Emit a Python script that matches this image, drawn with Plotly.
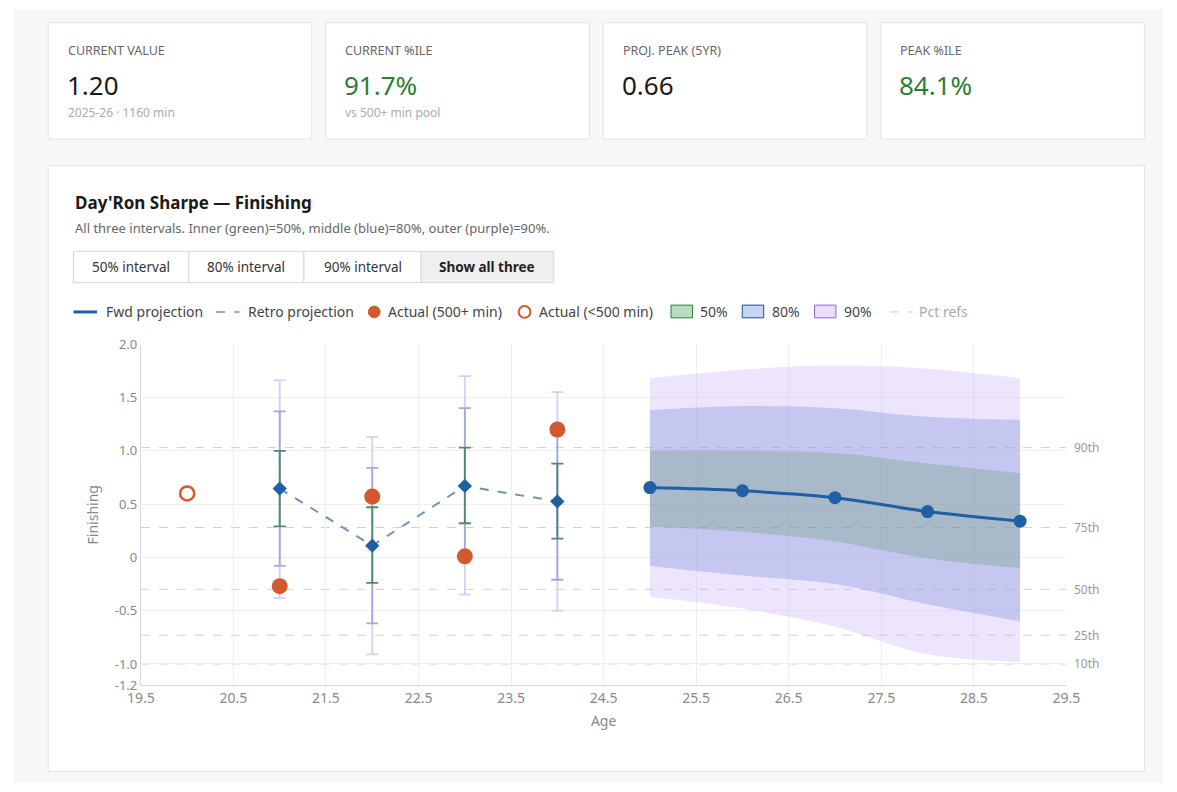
import plotly.graph_objects as go

W, H = 1177, 792

# data
retro_age = [21, 22, 23, 24]
retro_val = [0.645, 0.11, 0.67, 0.525]
retro_50_hi = [1.00, 0.47, 1.03, 0.88]
retro_50_lo = [0.29, -0.24, 0.32, 0.175]
retro_80_hi = [1.37, 0.84, 1.40, 1.22]
retro_80_lo = [-0.08, -0.62, -0.02, -0.21]
retro_90_hi = [1.66, 1.13, 1.70, 1.55]
retro_90_lo = [-0.38, -0.91, -0.35, -0.50]

actual_age = [21, 22, 23, 24]
actual_val = [-0.27, 0.57, 0.01, 1.20]
actual_small_age = [20]
actual_small_val = [0.60]

fwd_age = [25, 26, 27, 28, 29]
fwd_val = [0.655, 0.625, 0.56, 0.43, 0.34]
fwd_50_hi = [1.00, 1.00, 0.98, 0.88, 0.79]
fwd_50_lo = [0.29, 0.24, 0.15, -0.01, -0.10]
fwd_80_hi = [1.38, 1.42, 1.40, 1.32, 1.29]
fwd_80_lo = [-0.08, -0.17, -0.25, -0.44, -0.60]
fwd_90_hi = [1.68, 1.76, 1.80, 1.77, 1.68]
fwd_90_lo = [-0.37, -0.48, -0.65, -0.91, -0.98]

pct_names = ["90th", "75th", "50th", "25th", "10th"]
pct_vals = [1.03, 0.28, -0.30, -0.73, -1.00]

y_ticks = [2.0, 1.5, 1.0, 0.5, 0, -0.5, -1.0, -1.2]
y_tick_text = ["2.0", "1.5", "1.0", "0.5", "0", "-0.5", "-1.0", "-1.2"]
x_ticks = [19.5, 20.5, 21.5, 22.5, 23.5, 24.5, 25.5, 26.5, 27.5, 28.5, 29.5]

cards = [("CURRENT VALUE", "1.20", "#1a1a1a", "2025-26 · 1160 min"),
         ("CURRENT %ILE", "91.7%", "#2e7d32", "vs 500+ min pool"),
         ("PROJ. PEAK (5YR)", "0.66", "#1a1a1a", ""),
         ("PEAK %ILE", "84.1%", "#2e7d32", "")]
buttons = ["50% interval", "80% interval", "90% interval", "Show all three"]

C_FWD = "#1f5fa3"
C_RETRO = "#6f93c0"
C_ACT = "#d4582f"
F90 = "rgba(200,180,250,0.35)"
F80 = "rgba(110,130,215,0.30)"
F50 = "rgba(90,150,100,0.28)"
BG = "#f7f7f5"
FONT = "Segoe UI, Noto Sans, Open Sans, sans-serif"

def px(x):
    return x / W

def py(y):
    return 1 - y / H

fig = go.Figure()

# forward bands
for hi, lo, col in [(fwd_90_hi, fwd_90_lo, F90), (fwd_80_hi, fwd_80_lo, F80), (fwd_50_hi, fwd_50_lo, F50)]:
    fig.add_trace(go.Scatter(x=fwd_age, y=hi, mode="lines", line=dict(width=0, shape="spline"),
                             showlegend=False, hoverinfo="skip"))
    fig.add_trace(go.Scatter(x=fwd_age, y=lo, mode="lines", line=dict(width=0, shape="spline"),
                             fill="tonexty", fillcolor=col, showlegend=False, hoverinfo="skip"))

shapes = []
ann = []

# pct reference lines
for v in pct_vals:
    shapes.append(dict(type="line", xref="x domain", yref="y", x0=0, x1=1, y0=v, y1=v,
                       line=dict(color="#d0d0d0", width=1, dash="dash"), layer="below"))

# retro error bars
for hi, lo, col in [(retro_90_hi, retro_90_lo, "#d9ccf5"), (retro_80_hi, retro_80_lo, "#9eaadd"),
                    (retro_50_hi, retro_50_lo, "#4f8a6c")]:
    mid = [(a + b) / 2 for a, b in zip(hi, lo)]
    half = [(a - b) / 2 for a, b in zip(hi, lo)]
    fig.add_trace(go.Scatter(x=retro_age, y=mid, mode="markers", marker=dict(size=0.1, opacity=0),
                             error_y=dict(type="data", array=half, color=col, thickness=1.8, width=6),
                             showlegend=False, hoverinfo="skip"))

fig.add_trace(go.Scatter(x=retro_age, y=retro_val, mode="lines+markers",
                         line=dict(color=C_RETRO, width=2, dash="dash"),
                         marker=dict(symbol="diamond", size=11, color=C_FWD), showlegend=False))
fig.add_trace(go.Scatter(x=fwd_age, y=fwd_val, mode="lines+markers",
                         line=dict(color=C_FWD, width=3, shape="spline"),
                         marker=dict(size=13, color=C_FWD), showlegend=False))
fig.add_trace(go.Scatter(x=actual_age, y=actual_val, mode="markers",
                         marker=dict(size=16, color=C_ACT), showlegend=False))
fig.add_trace(go.Scatter(x=actual_small_age, y=actual_small_val, mode="markers",
                         marker=dict(size=14, color="white", line=dict(color=C_ACT, width=2.5)),
                         showlegend=False))

def rect(x0, y0, x1, y1, fill, line=None, width=1):
    shapes.append(dict(type="rect", xref="paper", yref="paper", x0=px(x0), x1=px(x1), y0=py(y1), y1=py(y0),
                       fillcolor=fill, line=dict(color=line or "rgba(0,0,0,0)", width=width if line else 0),
                       layer="above"))

# page background around the white panel
rect(0, 0, W, 160, BG)
rect(0, 160, 35, H, BG)
rect(1158, 160, W, H, BG)
rect(0, 780, W, H, BG)
shapes.append(dict(type="rect", xref="paper", yref="paper", x0=px(35), x1=px(1158), y0=py(780), y1=py(160),
                   line=dict(color="#e2e2e2", width=1), layer="above"))

# cards
for i, (lab, val, col, sub) in enumerate(cards):
    x0 = 35 + i * 284.3
    rect(x0, 14, x0 + 270, 133, "white", "#e2e2e2")
    ann.append(dict(x=px(x0 + 18), y=py(42), text=lab, font=dict(size=12.5, color="#666"), xanchor="left"))
    ann.append(dict(x=px(x0 + 17), y=py(78), text=val, font=dict(size=26, color=col), xanchor="left"))
    if sub:
        ann.append(dict(x=px(x0 + 18), y=py(106), text=sub, font=dict(size=12, color="#aaa"), xanchor="left"))

ann.append(dict(x=px(60), y=py(198), text="<b>Day'Ron Sharpe — Finishing</b>", font=dict(size=17, color="#1a1a1a"), xanchor="left"))
ann.append(dict(x=px(60), y=py(224), text="All three intervals. Inner (green)=50%, middle (blue)=80%, outer (purple)=90%.",
                font=dict(size=13, color="#666"), xanchor="left"))

# buttons
bx = [61, 179, 297, 417, 553]
for i, b in enumerate(buttons):
    rect(bx[i], 248, bx[i + 1], 280, "#efefef" if i == 3 else "white", "#d6d6d6")
    ann.append(dict(x=px((bx[i] + bx[i + 1]) / 2), y=py(264), text="<b>%s</b>" % b if i == 3 else b,
                    font=dict(size=13.5, color="#222" if i == 3 else "#333"), xanchor="center"))

# legend
ly = 310
def lline(x0, col, w, dash="solid"):
    shapes.append(dict(type="line", xref="paper", yref="paper", x0=px(x0), x1=px(x0 + 24), y0=py(ly), y1=py(ly),
                       line=dict(color=col, width=w, dash=dash)))
lline(61, C_FWD, 3)
ann.append(dict(x=px(92), y=py(ly), text="Fwd projection", font=dict(size=14, color="#444"), xanchor="left"))
lline(207, C_RETRO, 1.5, "dash")
ann.append(dict(x=px(238), y=py(ly), text="Retro projection", font=dict(size=14, color="#444"), xanchor="left"))
shapes.append(dict(type="circle", xref="paper", yref="paper", x0=px(363), x1=px(375), y0=py(316), y1=py(304), fillcolor=C_ACT, line=dict(color=C_ACT, width=1)))
ann.append(dict(x=px(381), y=py(ly), text="Actual (500+ min)", font=dict(size=14, color="#444"), xanchor="left"))
shapes.append(dict(type="circle", xref="paper", yref="paper", x0=px(517), x1=px(529), y0=py(316), y1=py(304), fillcolor="white", line=dict(color=C_ACT, width=2)))
ann.append(dict(x=px(536), y=py(ly), text="Actual (<500 min)", font=dict(size=14, color="#444"), xanchor="left"))
for x0, fc, lc, t in [(673, "#b9dcc0", "#2e7d32", "50%"), (746, "#c8d5ee", "#1f4e8c", "80%"), (820, "#e8ddfa", "#8a6fcf", "90%")]:
    rect(x0, 303, x0 + 22, 316, fc, lc)
    ann.append(dict(x=px(x0 + 28), y=py(ly), text=t, font=dict(size=14, color="#444"), xanchor="left"))
lline(897, "#ccc", 1, "dash")
ann.append(dict(x=px(925), y=py(ly), text="Pct refs", font=dict(size=14, color="#aaa"), xanchor="left"))

for t in ann:
    t.update(xref="paper", yref="paper", showarrow=False, yanchor="middle")

for n, v in zip(pct_names, pct_vals):
    ann.append(dict(x=px(1084), y=v, xref="paper", yref="y", text=n, showarrow=False,
                    xanchor="left", yanchor="middle", font=dict(size=12, color="#999")))

fig.update_layout(
    width=W, height=H, margin=dict(l=0, r=0, t=0, b=0),
    paper_bgcolor="white", plot_bgcolor="white",
    font=dict(family=FONT), showlegend=False,
    shapes=shapes, annotations=ann,
    xaxis=dict(domain=[px(130), px(1078)], range=[19.5, 29.5], tickvals=x_ticks,
               showgrid=True, gridcolor="#eeeeee", zeroline=False, showline=True, linecolor="#d8d8d8",
               ticks="", tickfont=dict(size=14, color="#888"),
               title=dict(text="Age", font=dict(size=14, color="#888"), standoff=10)),
    yaxis=dict(domain=[py(692), py(343)], range=[-1.2, 2.0], tickvals=y_ticks, ticktext=y_tick_text,
               showgrid=True, gridcolor="#eeeeee", zeroline=False, showline=True, linecolor="#d8d8d8",
               ticks="", tickfont=dict(size=13, color="#888"),
               title=dict(text="Finishing", font=dict(size=14, color="#888"), standoff=12)),
)

css = ("var s=document.createElement('style');"
       "s.innerHTML='html,body{margin:0!important;padding:0;overflow:hidden;background:%s}';"
       "document.head.appendChild(s);" % BG)
fig.write_html("out.html", config={"displayModeBar": False}, post_script=css)
